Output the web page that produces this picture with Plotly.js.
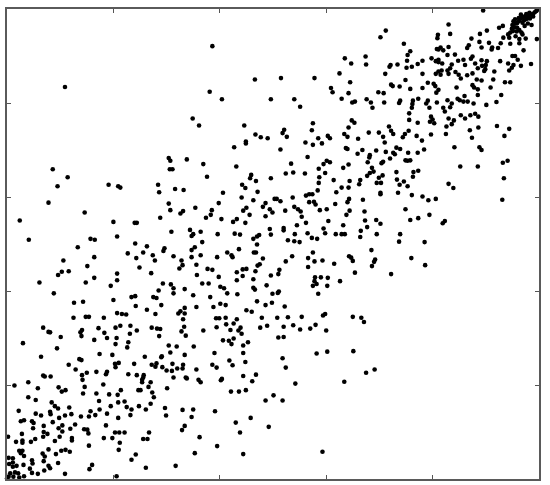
<!DOCTYPE html>
<html>
<head>
<meta charset="utf-8">
<script src="https://cdn.plot.ly/plotly-3.0.1.min.js"></script>
<style>
html, body { margin: 0; padding: 0; background: #fff; }
</style>
</head>
<body>
<div id="chart" style="width:550px;height:485px"></div>
<script>
// Points, [x, y], both axes 0-100.
const upperLeft = [[38.6,92.1],[10.9,83.4],[46.6,85.0],[38.1,82.4],[40.4,80.8],[49.6,80.8],[34.9,76.7],[36.1,75.2],[44.6,75.2],[46.7,73.3],[47.7,72.7],[49.0,72.5],[44.9,71.8],[44.9,71.4],[42.7,70.6],[30.4,68.3],[30.7,67.7],[33.8,68.0],[36.9,67.0],[43.1,66.5],[30.6,65.9],[31.1,65.9],[8.6,65.9],[11.4,64.2],[37.6,64.3],[45.9,64.7],[45.7,64.0],[49.6,64.0],[46.8,63.4],[9.5,62.3],[19.1,62.6],[20.9,62.3],[21.3,62.0],[28.4,62.6],[44.2,62.6],[44.8,61.9],[31.6,61.7],[33.2,61.5],[28.6,61.0],[40.6,60.9],[47.1,61.1],[44.1,59.9],[7.8,58.8],[39.8,58.7],[30.4,58.6],[46.3,59.3],[50.3,59.6],[48.6,58.7],[48.1,57.9],[49.4,57.4],[49.9,56.7],[45.0,57.7],[44.4,57.1],[35.4,57.7],[30.7,57.2],[38.5,57.2],[33.1,57.0],[32.6,56.5],[14.6,56.7],[45.6,56.2],[38.3,56.2],[37.4,55.6],[28.8,55.6],[48.6,55.9],[40.3,55.3],[43.2,55.3],[42.5,54.7],[2.4,55.0],[20.0,54.7],[24.0,54.5],[24.4,54.5],[44.8,54.5],[49.4,53.2],[34.4,53.0],[30.9,52.6],[36.4,52.6],[35.0,52.1],[34.7,51.7],[39.6,52.1],[42.8,52.2],[43.8,52.0],[49.6,52.0],[47.4,51.9],[47.0,51.6],[46.3,51.1],[20.7,51.6],[4.1,50.9],[15.7,51.1],[16.5,50.9],[36.7,50.4],[24.1,50.1],[47.0,49.9]];

const lowerLeft = [[13.3,49.3],[26.3,49.5],[35.3,49.3],[34.7,48.7],[29.6,49.1],[29.4,48.5],[43.6,48.9],[22.7,48.0],[25.6,48.2],[46.8,48.2],[46.4,48.2],[41.4,48.2],[27.4,47.6],[34.7,47.2],[36.4,47.6],[31.3,47.4],[42.2,47.6],[42.4,47.2],[39.5,47.2],[16.4,47.2],[24.3,47.0],[48.1,46.9],[10.6,46.5],[27.8,46.5],[32.8,46.5],[47.1,45.4],[47.5,45.7],[15.1,45.3],[35.6,45.6],[33.0,45.5],[24.9,45.0],[32.4,44.8],[37.7,44.7],[38.6,44.5],[44.3,44.6],[45.0,44.7],[43.2,44.0],[46.7,44.2],[10.3,44.1],[11.6,44.2],[9.6,43.4],[20.7,43.7],[27.1,43.8],[35.7,43.4],[44.3,43.2],[39.8,43.0],[49.6,43.3],[16.4,42.8],[20.7,42.3],[43.2,42.3],[46.3,42.5],[6.1,41.8],[14.8,41.8],[29.3,41.6],[30.8,41.4],[36.7,41.6],[37.9,41.6],[19.5,41.1],[48.8,41.2],[40.1,40.9],[40.8,40.6],[31.3,40.6],[46.3,40.7],[46.6,40.3],[33.4,40.4],[28.5,40.1],[8.8,39.5],[31.3,39.5],[41.4,39.5],[43.3,39.3],[49.9,39.4],[35.0,39.1],[24.1,38.9],[23.4,38.7],[27.5,38.7],[28.1,38.5],[38.2,38.7],[20.0,38.1],[47.0,37.8],[12.6,37.5],[14.3,37.7],[49.8,37.5],[40.1,37.3],[41.1,37.0],[29.0,37.0],[48.6,37.0],[24.2,36.8],[38.8,36.6],[35.6,36.6],[33.4,36.4],[26.3,36.0],[45.0,35.9],[46.0,35.6],[32.6,35.7],[32.2,35.2],[33.4,35.2],[20.7,35.3],[21.6,35.1],[22.4,35.0],[27.9,35.1],[12.5,34.3],[14.8,34.5],[15.4,34.5],[18.2,34.3],[47.9,34.3],[39.3,34.2],[39.9,34.2],[41.1,34.3],[43.2,34.0],[33.1,34.0],[41.2,32.9],[42.6,33.1],[48.9,32.6],[47.6,32.2],[23.2,32.6],[21.3,32.6],[20.4,32.2],[33.3,32.4],[39.4,32.3],[6.8,32.2],[27.2,32.2],[28.2,32.0],[28.8,31.9],[43.9,32.2],[17.2,32.1],[24.4,31.6],[36.9,31.6],[14.1,31.7],[13.8,31.2],[32.8,31.4],[43.5,31.6],[42.0,31.7],[7.8,31.3],[8.1,31.2],[18.3,31.1],[44.1,30.9],[33.6,30.5],[28.6,30.4],[10.1,30.2],[14.0,30.4],[18.8,30.0],[23.1,30.9],[20.6,30.0],[16.4,29.6],[42.6,29.9],[40.6,29.5],[41.7,29.4],[45.3,29.1],[3.0,28.9],[22.8,29.1],[20.4,28.7],[42.2,28.7],[44.4,28.4],[30.4,28.4],[31.9,28.2],[35.1,28.2],[22.6,28.0],[9.4,27.8],[30.7,26.9],[39.0,26.8],[44.4,26.8],[17.4,26.6],[19.8,26.4],[33.4,26.4],[29.1,26.1],[29.0,25.9],[25.9,26.0],[6.4,26.0],[13.6,25.5],[14.0,25.3],[41.8,25.2],[44.8,24.9],[20.3,24.5],[21.0,24.7],[23.9,24.5],[28.1,24.6],[27.2,24.3],[27.9,23.9],[31.1,24.5],[33.1,24.3],[33.0,23.5],[11.6,24.3],[38.6,24.3],[42.4,24.2],[20.4,23.8],[29.2,23.8],[32.0,23.5],[39.4,23.7],[12.9,23.3],[35.6,23.3],[30.0,23.1],[31.0,23.0],[16.8,22.8],[15.0,22.6],[18.8,22.8],[18.6,22.3],[22.8,22.3],[24.4,22.1],[46.8,22.2],[14.1,22.1],[44.4,21.9],[6.8,22.0],[7.1,21.8],[8.2,21.8],[25.7,22.1],[25.6,21.6],[31.3,21.6],[33.6,21.6],[33.8,21.4],[40.4,21.3],[40.2,21.0],[14.2,21.1],[36.0,21.1],[36.4,20.6],[25.4,21.1],[25.4,20.6],[46.1,20.8],[4.0,20.6],[27.0,20.6],[1.4,19.9],[18.1,20.1],[5.8,19.3],[9.7,19.5],[14.6,19.6],[26.6,19.6],[30.1,19.3],[11.0,18.9],[10.3,18.6],[21.4,18.9],[24.7,18.9],[25.1,18.9],[42.1,18.6],[43.6,18.6],[44.9,18.9],[14.3,18.2],[16.8,18.2],[27.3,18.4],[19.2,18.0],[20.8,17.9],[27.6,17.4],[4.0,17.4],[50.1,17.8],[5.4,16.8],[48.6,16.7],[8.4,16.3],[17.3,16.6],[20.9,16.3],[22.1,16.5],[27.0,16.0],[9.0,15.5],[9.6,15.0],[19.5,15.5],[22.5,15.3],[24.8,15.5],[11.7,15.2],[29.7,15.1],[23.4,14.8],[26.1,14.8],[17.4,14.8],[2.2,14.5],[8.1,14.3],[8.2,13.8],[15.7,14.4],[33.0,14.7],[35.0,14.8],[39.1,14.4],[5.4,13.9],[12.1,13.8],[10.9,13.5],[6.4,13.5],[18.8,13.9],[23.2,13.6],[16.6,13.6],[13.9,13.3],[15.4,13.3],[29.9,13.5],[20.9,13.0],[34.7,13.2],[9.8,13.0],[45.8,13.0],[2.6,12.3],[3.2,12.5],[4.7,12.3],[5.0,11.9],[8.6,12.1],[43.0,12.0],[12.8,11.6],[6.9,11.3],[10.4,11.4],[9.7,10.8],[33.4,11.3],[18.6,11.4],[49.2,11.1],[4.9,10.8],[11.9,10.7],[14.5,10.6],[15.1,10.5],[32.9,10.4],[6.9,10.0],[7.6,9.6],[10.4,10.1],[43.8,9.9],[2.8,9.6],[15.3,9.7],[20.3,9.9],[21.1,9.9],[22.1,9.9],[26.7,9.9],[6.8,9.0],[9.9,9.0],[0.2,9.0],[36.2,8.9],[18.2,8.7],[19.8,8.7],[25.6,8.5],[26.4,8.5],[12.2,8.7],[12.2,8.2],[5.3,8.5],[9.0,8.1],[2.9,8.2],[2.9,7.7],[1.7,7.9],[4.5,7.9],[21.2,7.7],[15.4,7.1],[39.5,7.0],[21.0,6.2],[7.8,6.3],[11.0,6.2],[11.8,5.8],[10.2,6.0],[2.3,6.0],[2.9,6.0],[3.2,4.9],[9.2,5.3],[6.7,5.4],[7.1,4.8],[35.3,5.5],[24.2,5.2],[44.4,5.3],[2.6,5.5],[4.7,4.0],[23.4,4.1],[0.3,4.5],[1.1,4.4],[6.9,3.8],[9.6,3.4],[3.1,3.0],[1.1,3.5],[1.1,2.6],[7.8,2.8],[8.1,2.3],[4.8,3.3],[16.0,3.0],[15.5,2.1],[26.1,2.4],[31.7,2.8],[4.3,2.2],[7.0,1.8],[10.9,1.1],[4.7,1.3],[5.8,1.1],[1.8,2.8],[0.4,3.2],[2.1,1.2],[0.6,1.2],[1.5,1.4],[0.3,0.5],[1.2,0.5],[2.3,0.3],[3.2,0.6],[20.6,0.6],[0.0,0.1]];

const upperRight = [[89.5,99.7],[83.0,96.7],[71.2,95.4],[70.2,94.0],[81.0,94.5],[80.9,93.8],[83.3,94.7],[90.2,95.4],[88.9,94.7],[93.2,96.4],[92.5,96.0],[87.3,93.7],[88.8,93.0],[94.6,92.6],[99.6,93.6],[97.5,93.7],[96.3,93.6],[96.3,92.7],[74.6,92.6],[93.3,93.9],[90.6,92.8],[92.8,92.7],[86.8,92.3],[86.5,91.7],[83.0,91.9],[89.2,91.8],[91.2,91.8],[91.1,91.4],[92.3,91.7],[81.5,91.8],[81.1,91.4],[80.8,91.5],[82.0,91.2],[75.8,91.0],[75.3,90.2],[97.1,91.2],[84.2,90.3],[82.8,90.2],[67.4,89.9],[63.5,89.5],[87.5,89.9],[87.2,89.4],[79.8,89.5],[95.0,90.0],[95.5,90.0],[96.0,89.2],[78.1,89.0],[75.2,89.0],[81.1,89.2],[80.6,88.9],[85.8,89.2],[84.8,89.0],[89.2,89.1],[90.2,88.9],[92.7,88.9],[64.7,88.4],[67.5,88.2],[81.1,88.7],[81.8,88.4],[77.2,88.3],[72.1,88.1],[71.9,87.7],[73.4,88.2],[76.1,87.7],[75.1,87.5],[95.2,88.1],[94.2,88.4],[96.6,87.9],[98.5,88.3],[83.6,88.2],[83.3,87.4],[82.8,86.9],[86.1,88.1],[88.0,88.4],[89.3,87.9],[90.0,88.1],[88.5,87.4],[89.9,87.2],[89.7,86.8],[94.9,87.5],[94.4,86.9],[91.6,86.7],[62.5,86.3],[71.1,86.2],[78.1,86.2],[81.7,86.9],[81.1,86.7],[80.6,86.2],[81.5,86.0],[83.0,86.2],[84.3,86.6],[84.9,86.0],[86.5,85.9],[87.5,86.3],[85.3,85.2],[51.5,85.3],[57.8,85.3],[88.3,85.0],[89.2,84.8],[74.9,84.9],[91.4,85.0],[64.5,84.4],[93.6,84.4],[94.6,84.4],[79.1,84.3],[80.2,84.1],[80.5,83.6],[72.2,83.9],[72.5,83.6],[73.8,83.5],[87.5,83.8],[87.8,83.3],[75.8,83.0],[78.1,83.2],[84.5,83.3],[90.9,83.3],[88.5,82.9],[60.9,83.2],[61.2,82.3],[81.1,82.8],[80.7,82.2],[69.8,82.3],[70.8,82.1],[64.2,82.1],[86.0,81.5],[88.5,81.7],[92.9,81.7],[62.9,80.9],[54.0,80.8],[67.6,80.8],[77.3,80.9],[76.3,80.5],[84.7,80.9],[85.1,80.6],[65.4,80.3],[64.9,80.1],[68.4,80.1],[68.7,79.0],[70.9,80.1],[73.9,80.5],[73.7,80.0],[79.1,80.5],[78.8,79.9],[80.8,80.1],[82.8,80.6],[83.6,79.9],[83.3,79.1],[85.8,80.3],[86.6,80.3],[87.7,79.9],[92.0,80.2],[90.1,79.6],[55.1,79.2],[76.2,79.8],[76.1,79.0],[79.4,79.0],[82.0,79.0],[82.3,78.2],[75.6,77.8],[79.7,77.1],[80.0,76.5],[83.0,76.7],[85.3,77.4],[86.1,76.7],[87.1,77.4],[88.0,77.7],[88.6,77.1],[75.6,76.4],[64.8,76.3],[65.3,75.8],[77.2,75.8],[79.5,76.0],[80.3,75.7],[84.0,76.3],[83.6,75.5],[57.5,75.7],[82.6,75.0],[92.1,75.1],[88.6,74.8],[94.4,74.5],[87.0,74.2],[57.3,74.2],[52.1,74.3],[51.8,73.6],[64.2,74.8],[71.8,75.0],[72.2,74.1],[72.6,73.4],[68.0,73.7],[69.9,73.7],[70.7,72.8],[75.5,74.1],[74.8,73.4],[74.4,72.7],[63.4,73.4],[64.0,72.8],[79.7,73.3],[82.5,73.4],[52.6,72.8],[77.0,73.0],[78.0,72.0],[87.4,72.6],[93.5,73.0],[58.5,72.5],[60.3,73.0],[60.7,72.5],[66.0,72.4],[71.0,71.6],[56.1,71.6],[57.5,71.1],[59.2,71.4],[51.4,70.1],[63.7,70.4],[64.0,70.2],[73.2,70.5],[73.9,70.2],[78.4,70.1],[84.1,70.6],[88.8,70.6],[89.2,70.0],[66.8,70.0],[69.4,69.9],[71.2,69.6],[72.6,69.4],[72.9,69.1],[65.9,69.2],[75.4,69.4],[77.2,69.4],[68.2,68.9],[68.1,68.4],[67.8,67.4],[56.5,68.5],[72.0,68.2],[74.9,67.8],[75.3,67.7],[75.8,67.8],[70.7,67.5],[70.4,67.2],[60.1,67.7],[60.7,67.4],[59.5,67.0],[93.2,67.3],[94.1,67.7],[53.4,67.1],[64.2,66.9],[63.2,66.2],[68.6,66.2],[58.6,66.0],[85.2,66.5],[88.5,66.5],[68.9,65.4],[68.2,65.1],[77.3,65.6],[76.4,65.3],[76.3,64.3],[59.8,65.1],[52.4,65.0],[53.8,65.2],[56.0,65.0],[73.2,65.3],[70.6,64.6],[67.7,64.5],[58.7,64.2],[58.6,63.0],[61.4,63.6],[66.4,63.6],[66.2,62.7],[69.9,64.1],[64.4,63.4],[73.3,63.7],[74.6,63.3],[93.4,64.0],[69.5,63.0],[70.3,63.0],[73.8,62.6],[83.0,62.8],[83.9,61.9],[75.3,62.3],[62.9,62.0],[64.2,62.0],[58.4,61.4],[70.2,60.9],[70.2,60.6],[61.9,61.0],[73.5,60.9],[56.8,60.6],[56.2,60.3],[57.4,60.6],[76.1,60.4],[78.1,60.1],[53.7,59.9],[50.7,59.6],[51.4,59.1],[79.2,59.3],[80.6,59.6],[93.1,59.4],[66.9,59.4],[64.3,59.6],[64.0,58.9],[56.8,58.9],[57.7,59.0],[58.0,58.4],[61.7,58.5],[54.0,57.9],[54.7,57.4],[55.2,56.9],[58.8,57.2],[60.1,57.4],[52.3,57.1],[74.9,57.4],[64.4,57.1],[63.8,56.2],[67.2,56.9],[79.4,56.2],[55.4,55.8],[75.8,55.1],[77.3,55.5],[69.4,55.1],[70.2,54.3],[67.3,55.0],[56.2,54.5],[60.4,54.9],[82.3,54.9],[81.9,54.4],[54.5,54.0],[63.2,54.0],[67.7,53.6],[52.0,53.4],[52.0,52.9],[59.5,53.3],[59.8,52.3],[66.5,52.8],[56.5,52.3],[54.1,52.1],[61.8,52.1],[62.9,52.1],[63.5,52.1],[69.5,52.1],[73.9,52.1],[57.3,51.3],[58.3,51.1],[66.4,51.5],[52.8,50.8],[54.0,50.6],[55.0,50.4],[73.7,50.5],[78.5,50.4]];

const lowerRight = [[68.5,48.7],[57.5,48.2],[53.6,47.4],[64.3,47.4],[64.7,47.1],[65.0,46.4],[56.6,47.0],[76.0,47.0],[69.2,46.7],[69.0,46.2],[68.6,45.3],[52.4,46.3],[57.8,46.3],[59.3,46.5],[61.5,45.8],[78.6,45.5],[56.6,45.1],[51.2,44.5],[51.0,43.6],[65.4,43.9],[72.2,43.6],[57.9,42.9],[57.8,42.1],[58.2,41.5],[57.5,41.1],[59.0,42.9],[60.3,42.8],[62.6,42.1],[60.2,41.1],[51.1,39.9],[50.9,39.6],[58.5,39.4],[52.2,36.7],[59.8,35.1],[59.4,34.8],[65.0,34.5],[66.6,34.3],[67.1,33.4],[50.8,34.3],[52.8,34.4],[55.4,34.5],[52.0,32.4],[53.8,32.7],[58.0,32.8],[55.1,31.8],[57.0,32.0],[60.0,31.6],[51.0,30.1],[52.0,30.2],[58.2,26.7],[60.2,27.1],[65.1,27.2],[51.8,25.7],[52.4,23.7],[67.5,22.6],[69.1,23.3],[54.2,20.3],[63.4,20.7],[51.8,16.7],[59.3,5.8]];

const topCorner = [[99.9,99.9],[99.5,99.6],[99.2,99.3],[98.9,99.0],[98.5,98.8],[98.9,98.4],[98.2,99.2],[97.9,98.5],[98.3,98.0],[97.6,98.9],[97.3,98.4],[97.7,97.9],[97.2,97.6],[96.9,98.3],[96.6,98.8],[96.5,97.9],[96.9,97.1],[96.2,98.1],[96.2,97.4],[95.9,97.0],[95.5,97.8],[95.6,96.9],[95.2,97.4],[95.0,96.6],[95.4,96.1],[95.9,96.0],[94.9,95.8],[95.1,95.3],[94.6,95.0],[94.2,94.6],[95.8,95.2],[96.3,95.5],[96.7,95.0],[97.3,96.4],[97.9,96.9],[94.4,93.9],[95.6,94.2],[96.9,94.6],[98.6,96.6]];

const tickValues = [20, 40, 60, 80];

const points = [...upperLeft, ...lowerLeft, ...upperRight, ...lowerRight, ...topCorner];

const frameAxis = {
    range: [0, 100],
    tickvals: tickValues,
    ticks: 'inside',
    ticklen: 4,
    tickwidth: 1,
    tickcolor: '#555555',
    showticklabels: false,
    showgrid: false,
    zeroline: false,
    showline: true,
    linecolor: '#5a5a5a',
    linewidth: 2,
    mirror: 'ticks'
};

Plotly.newPlot('chart', [{
    x: points.map(p => p[0]),
    y: points.map(p => p[1]),
    type: 'scatter',
    mode: 'markers',
    cliponaxis: false,
    marker: { color: '#000000', size: 4.6 },
    hoverinfo: 'skip'
}], {
    width: 550,
    height: 485,
    margin: { l: 7, r: 11, t: 9, b: 6, pad: 0 },
    paper_bgcolor: '#ffffff',
    plot_bgcolor: '#ffffff',
    showlegend: false,
    xaxis: frameAxis,
    yaxis: frameAxis
}, { displayModeBar: false, staticPlot: true });
</script>
</body>
</html>
